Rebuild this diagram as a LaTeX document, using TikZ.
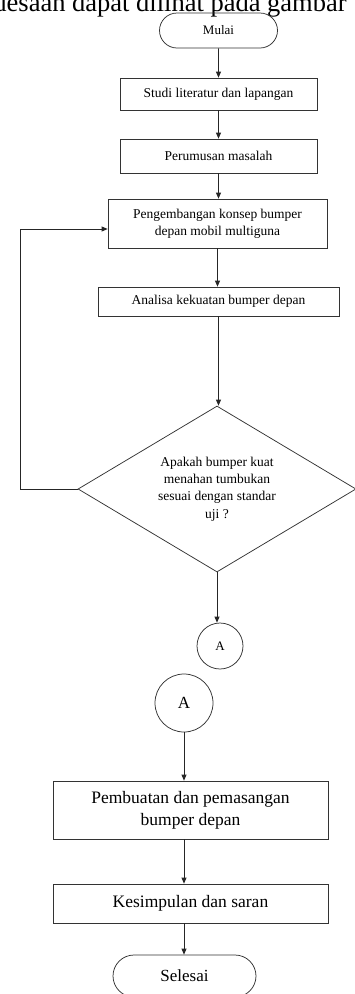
\documentclass[tikz,border=0pt]{standalone}
\usepackage{fontspec}
\setmainfont{Liberation Serif}
\usetikzlibrary{arrows.meta,shapes.geometric,shapes.misc,calc}
\begin{document}
\begin{tikzpicture}[x=1pt,y=-1pt,
  line width=0.75pt,
  every node/.style={draw=black!80, inner sep=2pt, align=center},
  procbox/.style={rectangle, font=\fontsize{13.5}{17}\selectfont},
  bigbox/.style={rectangle, font=\fontsize{17.5}{22}\selectfont},
  term/.style={rounded rectangle, font=\fontsize{13}{16}\selectfont},
  bigterm/.style={rounded rectangle, font=\fontsize{17}{20}\selectfont},
  decision/.style={diamond, aspect=1.67, inner sep=0pt, font=\fontsize{13.5}{17.3}\selectfont},
  conn/.style={circle, inner sep=0pt},
  arr/.style={draw=black!85, -{Triangle[length=6pt,width=5pt]}}
]
\useasboundingbox (0,0) rectangle (355,994);

% header text (cut at the top)
\node[draw=none, anchor=base east, inner sep=0pt, font=\fontsize{26.5}{30}\selectfont] (hdr) at (347,11.5) {desaan dapat dilihat pada gambar};

\node[term, minimum width=122, minimum height=35] (mulai) at (218.5,30.5) {Mulai};
\node[procbox, minimum width=197, minimum height=32] (b1) at (218.5,94) {Studi literatur dan lapangan};
\node[procbox, minimum width=197, minimum height=34] (b2) at (218.5,156) {Perumusan masalah};
\node[procbox, minimum width=219, minimum height=49] (b3) at (217.5,223.5) {Pengembangan konsep bumper\\depan mobil multiguna};
\node[procbox, minimum width=241, minimum height=29] (b4) at (218.5,301.5) {Analisa kekuatan bumper depan};
\node[decision, minimum width=278, minimum height=166] (d) at (217,489) {Apakah bumper kuat\\menahan tumbukan\\sesuai dengan standar\\uji ?};
\node[conn, minimum size=46, font=\fontsize{13}{16}\selectfont] (a1) at (220,646) {A};

\node[conn, minimum size=58, font=\fontsize{17}{20}\selectfont] (a2) at (184,703) {A};
\node[bigbox, minimum width=275, minimum height=58] (b5) at (190.5,810) {Pembuatan dan pemasangan\\bumper depan};
\node[bigbox, minimum width=275, minimum height=39] (b6) at (190.5,903.5) {Kesimpulan dan saran};
\node[bigterm, minimum width=147, minimum height=42] (sel) at (184.5,976) {Selesai};

\coordinate (fb) at (20,229);

\draw[arr] (mulai) -- (b1);
\draw[arr] (b1) -- (b2);
\draw[arr] (b2.south) -- (b2.south |- b3.north);
\draw[arr] (b3.south) -- (b3.south |- b4.north);
\draw[arr] (b4.south) -- (b4.south |- d.north);
\draw[arr] (d.south) -- (d.south |- a1.north);
\draw[arr] (d.west) -| (fb) -- (fb -| b3.west);

\draw[arr] (a2.south) -- (a2.south |- b5.north);
\draw[arr] (a2.south |- b5.south) -- (a2.south |- b6.north);
\draw[arr] (a2.south |- b6.south) -- (a2.south |- sel.north);
\end{tikzpicture}
\end{document}
